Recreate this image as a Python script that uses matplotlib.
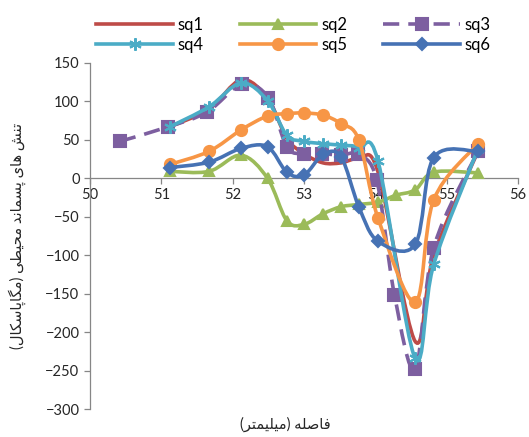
import numpy as np
import matplotlib
matplotlib.use('Agg')
import matplotlib.pyplot as plt
from matplotlib.path import Path
from matplotlib.patches import PathPatch
from matplotlib.lines import Line2D

plt.rcParams['font.family'] = ['Lato', 'DejaVu Sans']

# distance (mm) of the measuring points
dist = [51.12, 51.67, 52.12, 52.49, 52.76, 53.0, 53.27, 53.52, 53.77, 54.04, 54.56, 54.82, 55.44]
dist_sq2 = [51.12, 51.67, 52.12, 52.49, 52.76, 53.0, 53.27, 53.52, 53.77, 54.04, 54.29, 54.56, 54.82, 55.44]
dist_sq3 = [50.42, 51.1, 51.64, 52.13, 52.5, 52.76, 53.0, 53.26, 53.52, 53.76, 54.02, 54.27, 54.56, 54.82, 55.44]

# hoop residual stress (MPa)
sq1 = [67, 90, 128, 104, 52, 32, 20, 20, 25, 8, -212, -100, 35]
sq2 = [9, 9, 30, 0, -55, -60, -46, -37, -34, -31, -22, -15, 8, 7]
sq3 = [48, 67, 86, 122, 105, 41, 32, 32, 30, 31, -2, -152, -248, -90, 35]
sq4 = [67, 93, 124, 101, 56, 48, 45, 43, 40, 22, -234, -112, 38]
sq5 = [18, 35, 63, 81, 84, 85, 82, 71, 50, -52, -161, -28, 45]
sq6 = [14, 21, 39, 41, 8, 4, 31, 28, -37, -82, -86, 27, 35]

xticks = [50, 51, 52, 53, 54, 55, 56]
yticks = [-300, -250, -200, -150, -100, -50, 0, 50, 100, 150]

# persian letters -> (isolated, final, initial, medial); 2-form letters join only to the right
FORMS = {
    'ا': (0xFE8D, 0xFE8E), 'د': (0xFEA9, 0xFEAA), 'ر': (0xFEAD, 0xFEAE),
    'ت': (0xFE95, 0xFE96, 0xFE97, 0xFE98), 'ح': (0xFEA1, 0xFEA2, 0xFEA3, 0xFEA4),
    'س': (0xFEB1, 0xFEB2, 0xFEB3, 0xFEB4), 'ش': (0xFEB5, 0xFEB6, 0xFEB7, 0xFEB8),
    'ص': (0xFEB9, 0xFEBA, 0xFEBB, 0xFEBC), 'ط': (0xFEC1, 0xFEC2, 0xFEC3, 0xFEC4),
    'ف': (0xFED1, 0xFED2, 0xFED3, 0xFED4), 'ل': (0xFEDD, 0xFEDE, 0xFEDF, 0xFEE0),
    'م': (0xFEE1, 0xFEE2, 0xFEE3, 0xFEE4), 'ن': (0xFEE5, 0xFEE6, 0xFEE7, 0xFEE8),
    'ه': (0xFEE9, 0xFEEA, 0xFEEB, 0xFEEC), 'پ': (0xFB56, 0xFB57, 0xFB58, 0xFB59),
    'ک': (0xFB8E, 0xFB8F, 0xFB90, 0xFB91), 'گ': (0xFB92, 0xFB93, 0xFB94, 0xFB95),
    'ی': (0xFBFC, 0xFBFD, 0xFBFE, 0xFBFF),
}
MIRROR = {'(': ')', ')': '('}


def shape(text):
    out = []
    for i, ch in enumerate(text):
        if ch not in FORMS:
            out.append(MIRROR.get(ch, ch))
            continue
        prev = text[i - 1] if i > 0 else ''
        nxt = text[i + 1] if i + 1 < len(text) else ''
        join_prev = prev in FORMS and len(FORMS[prev]) == 4
        join_next = nxt in FORMS and len(FORMS[ch]) == 4
        f = FORMS[ch]
        if join_prev and join_next:
            out.append(chr(f[3]))
        elif join_prev:
            out.append(chr(f[1]))
        elif join_next:
            out.append(chr(f[2]))
        else:
            out.append(chr(f[0]))
    return ''.join(reversed(out))


def smooth_path(x, y):
    # catmull-rom style bezier through every point
    p = np.column_stack([x, y]).astype(float)
    verts = [p[0]]
    codes = [Path.MOVETO]
    n = len(p)
    for i in range(n - 1):
        p0 = p[i - 1] if i > 0 else p[i]
        p3 = p[i + 2] if i + 2 < n else p[i + 1]
        c1 = p[i] + (p[i + 1] - p0) / 6.0
        c2 = p[i + 1] - (p3 - p[i]) / 6.0
        verts += [c1, c2, p[i + 1]]
        codes += [Path.CURVE4] * 3
    return Path(verts, codes)


series = [
    ('sq1', dist, sq1, '#BE4B48', None, 0, '-'),
    ('sq2', dist_sq2, sq2, '#9BBB59', '^', 7, '-'),
    ('sq3', dist_sq3, sq3, '#7D5FA0', 's', 8, (0, (4.5, 2.5))),
    ('sq4', dist, sq4, '#4BACC6', (6, 2, 0), 9, '-'),
    ('sq5', dist, sq5, '#F79646', 'o', 8, '-'),
    ('sq6', dist, sq6, '#4672B4', 'D', 6, '-'),
]

fig = plt.figure(figsize=(5.29, 4.37), dpi=100)
ax = fig.add_axes([0.170, 0.064, 0.809, 0.792])

handles = {}
for k, (name, xs, ys, color, marker, ms, ls) in enumerate(series):
    z = 2 + k
    patch = PathPatch(smooth_path(xs, ys), fill=False, edgecolor=color, lw=2.6,
                      linestyle=ls, zorder=z, capstyle='butt')
    ax.add_patch(patch)
    if marker is not None:
        ax.plot(xs, ys, linestyle='none', marker=marker, ms=ms, color=color,
                mec=color, mew=1.5, zorder=z)
    handles[name] = Line2D([], [], color=color, lw=2.6, linestyle=ls,
                           marker=marker, ms=ms, mec=color, mew=1.5)

ax.set_xlim(50, 56)
ax.set_ylim(-300, 150)
ax.set_xticks(xticks)
ax.set_yticks(yticks)
ax.spines['top'].set_visible(False)
ax.spines['right'].set_visible(False)
ax.spines['bottom'].set_position(('data', 0))
for s in ('left', 'bottom'):
    ax.spines[s].set_color('#868686')
    ax.spines[s].set_linewidth(0.9)
ax.tick_params(axis='both', direction='out', length=4, width=0.9, color='#868686',
               labelsize=10.5, labelcolor='#262626')
ax.tick_params(axis='x', pad=3)

ax.set_xlabel(shape('فاصله (میلیمتر)'), fontsize=10.5, color='#262626')
ax.set_ylabel(shape('تنش های پسماند محیطی (مگاپاسکال)'), fontsize=10.5, color='#262626')
ax.xaxis.set_label_coords(0.456, -0.022)
ax.yaxis.set_label_coords(-0.15, 0.5)

order = ['sq1', 'sq4', 'sq2', 'sq5', 'sq3', 'sq6']
fig.legend([handles[n] for n in order], order, loc='upper center',
           bbox_to_anchor=(0.555, 0.995), ncol=3, frameon=False, fontsize=12,
           handlelength=4.6, columnspacing=2.15, handletextpad=0.3, labelspacing=0.2)

fig.savefig('out.png', dpi=100)
